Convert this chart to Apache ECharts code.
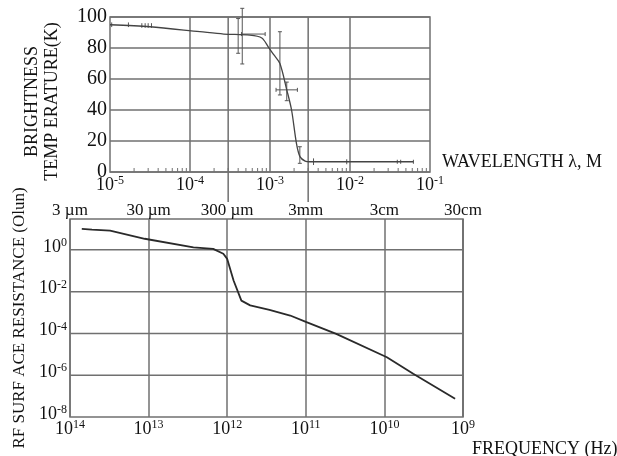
<!DOCTYPE html>
<html>
<head>
<meta charset="utf-8">
<script src="https://cdn.jsdelivr.net/npm/echarts@6/dist/echarts.min.js"></script>
<style>
  html, body { margin: 0; background: #fff; }
  #chart { width: 617px; height: 456px; }
</style>
</head>
<body>
<div id="chart"></div>
<script>
const FONT = '"Liberation Serif", "Times New Roman", serif'
const INK = '#111'
const GRID = '#707070'

// top panel: brightness temperature (K) vs wavelength (m)
const wavelength = [1e-5, 3.16e-5, 1.33e-4, 2.63e-4, 5.6e-4, 7.9e-4, 9.5e-4, 1.12e-3, 1.33e-3, 1.62e-3, 1.86e-3, 2.14e-3, 2.37e-3, 2.75e-3, 3.16e-3, 6.2e-2]
const brightness = [95, 93.7, 90.5, 89, 88.3, 86.5, 80.8, 75.5, 70, 53, 40, 18.5, 9.9, 7, 6.6, 6.6]

// measured points with error bars
const errLambda     = [1.05e-5, 1.7e-5, 2.5e-5, 2.75e-5, 3.0e-5, 3.3e-5, 4.0e-4, 4.5e-4, 1.33e-3, 1.62e-3, 2.36e-3, 3.5e-3, 9.1e-3, 3.9e-2, 4.3e-2, 6.2e-2]
const errTemp       = [95, 95, 94.5, 94.5, 94.5, 94.5, 88, 89, 70, 53, 11, 6.6, 6.6, 6.6, 6.6, 6.6]
const errTempLow    = [93.5, 93.5, 93, 93, 93, 93, 76.6, 69.7, 49.7, 46, 5.6, 4.5, 5, 5.3, 5.3, 5.3]
const errTempHigh   = [96.5, 96.5, 96, 96, 96, 96, 99, 105.6, 90.5, 58, 16.3, 8.8, 8.2, 7.9, 7.9, 7.9]
const errLambdaLow  = [1.05e-5, 1.7e-5, 2.5e-5, 2.75e-5, 3.0e-5, 3.3e-5, 4.0e-4, 4.4e-4, 1.33e-3, 1.19e-3, 2.36e-3, 3.5e-3, 9.1e-3, 3.9e-2, 4.3e-2, 6.2e-2]
const errLambdaHigh = [1.05e-5, 1.7e-5, 2.5e-5, 2.75e-5, 3.0e-5, 3.3e-5, 4.0e-4, 8.7e-4, 1.33e-3, 2.2e-3, 2.36e-3, 3.5e-3, 9.1e-3, 3.9e-2, 4.3e-2, 6.2e-2]

// vertical grid lines of the top panel and the links down to the lower panel
const topGridLambda = [1e-4, 3e-4, 1e-3, 3e-3, 1e-2]
const linkLambda = [3e-4, 3e-3]
const minorMultipliers = [2, 3, 4, 5, 6, 7, 8, 9]
const minorDecades = [1e-5, 1e-4, 1e-3, 1e-2]

// bottom panel: RF surface resistance (Ohm) vs frequency (Hz)
const frequency = [7.08e13, 5.25e13, 3.09e13, 1.12e13, 2.69e12, 1.51e12, 1.12e12, 1.0e12, 8.3e11, 6.6e11, 5.1e11, 2.9e11, 1.58e11, 9.8e10, 4.1e10, 9.3e9, 4.3e9, 1.26e9]
const resistance = [10, 9.3, 8.3, 3.4, 1.32, 1.12, 0.65, 0.37, 0.034, 3.7e-3, 2.2e-3, 1.35e-3, 7.2e-4, 3.5e-4, 9.5e-5, 7.2e-6, 1.17e-6, 7.4e-8]
const resistanceGrid = [1e0, 1e-2, 1e-4, 1e-6]

// wavelength labels on top of the lower panel, for 10^14 ... 10^9 Hz
const wavelengthLabels = ['3 µm', '30 µm', '300 µm', '3mm', '3cm', '30cm']

const chart = echarts.init(document.getElementById('chart'), null, { width: 617, height: 456 })

const powRich = {
  b: { fontFamily: FONT, fontSize: 18, color: INK, lineHeight: 20 },
  s: { fontFamily: FONT, fontSize: 12, color: INK, verticalAlign: 'top', lineHeight: 20 }
}

function exponentOf(v) {
  const e = Math.log10(v)
  return Math.abs(e - Math.round(e)) < 1e-6 ? Math.round(e) : null
}

function powLabel(v) {
  const e = exponentOf(v)
  return e === null ? '' : '{b|10}{s|' + e + '}'
}

const minorLambda = []
minorDecades.forEach(d => minorMultipliers.forEach(m => minorLambda.push(d * m)))

const gridStyle = { stroke: GRID, lineWidth: 1.5 }

function renderErrorBar(params, api) {
  const x = api.value(0)
  const y = api.value(1)
  const lo = api.coord([x, api.value(2)])
  const hi = api.coord([x, api.value(3)])
  const left = api.coord([api.value(4), y])
  const right = api.coord([api.value(5), y])
  const style = { stroke: '#555', lineWidth: 1 }
  const children = [
    { type: 'line', shape: { x1: lo[0], y1: lo[1], x2: hi[0], y2: hi[1] }, style }
  ]
  if (hi[1] - lo[1] < -8) {
    children.push({ type: 'line', shape: { x1: lo[0] - 2, y1: lo[1], x2: lo[0] + 2, y2: lo[1] }, style })
    children.push({ type: 'line', shape: { x1: hi[0] - 2, y1: hi[1], x2: hi[0] + 2, y2: hi[1] }, style })
  }
  if (right[0] - left[0] > 1) {
    children.push({ type: 'line', shape: { x1: left[0], y1: left[1], x2: right[0], y2: right[1] }, style })
    children.push({ type: 'line', shape: { x1: left[0], y1: left[1] - 2, x2: left[0], y2: left[1] + 2 }, style })
    children.push({ type: 'line', shape: { x1: right[0], y1: right[1] - 2, x2: right[0], y2: right[1] + 2 }, style })
  }
  return { type: 'group', children }
}

chart.setOption({
  backgroundColor: '#fff',
  animation: false,
  textStyle: { fontFamily: FONT, color: INK },
  grid: [
    { left: 110, right: 187, top: 17, height: 155, outerBoundsMode: 'none', show: true, borderColor: GRID, borderWidth: 1.5, backgroundColor: 'transparent' },
    { left: 70, right: 154, top: 219, height: 198, outerBoundsMode: 'none', show: true, borderColor: GRID, borderWidth: 1.5, backgroundColor: 'transparent' }
  ],
  xAxis: [
    {
      gridIndex: 0, type: 'log', logBase: 10, min: 1e-5, max: 1e-1,
      axisLine: { show: false }, axisTick: { show: false }, splitLine: { show: false },
      axisLabel: { margin: 3, formatter: powLabel, rich: powRich },
      name: 'WAVELENGTH λ, M', nameLocation: 'end', nameGap: 12,
      nameTextStyle: { fontFamily: FONT, fontSize: 18, color: INK, verticalAlign: 'bottom', padding: [0, 0, 1, 0] }
    },
    {
      gridIndex: 1, type: 'log', logBase: 10, min: 1e9, max: 1e14, inverse: true,
      axisLine: { show: false }, axisTick: { show: false },
      splitLine: { show: true, lineStyle: { color: GRID, width: 1.5 } },
      axisLabel: { margin: 2, formatter: powLabel, rich: powRich },
      name: 'FREQUENCY (Hz)', nameLocation: 'start', nameGap: 9,
      nameTextStyle: { fontFamily: FONT, fontSize: 18, color: INK, verticalAlign: 'top', padding: [23, 0, 0, 0] }
    },
    {
      gridIndex: 1, type: 'log', logBase: 10, min: 1e9, max: 1e14, inverse: true, position: 'top',
      axisLine: { show: false }, axisTick: { show: false }, splitLine: { show: false },
      axisLabel: {
        margin: 0, fontFamily: FONT, fontSize: 17, color: INK,
        formatter: v => {
          const e = exponentOf(v)
          return e === null ? '' : wavelengthLabels[14 - e]
        }
      }
    }
  ],
  yAxis: [
    {
      gridIndex: 0, type: 'value', min: 0, max: 100, interval: 20,
      axisLine: { show: false }, axisTick: { show: false },
      splitLine: { show: true, lineStyle: { color: GRID, width: 1.5 } },
      axisLabel: { margin: 3, fontFamily: FONT, fontSize: 20, color: INK },
      name: 'BRIGHTNESS\nTEMP ERATURE(K)', nameLocation: 'middle', nameRotate: 90, nameGap: 48,
      nameTextStyle: { fontFamily: FONT, fontSize: 18, color: INK, lineHeight: 20, padding: [0, 14, 0, 0] }
    },
    {
      gridIndex: 1, type: 'log', logBase: 10, min: 1e-8, max: 30,
      axisLine: { show: false }, axisTick: { show: false }, splitLine: { show: false },
      axisLabel: {
        margin: 3, rich: powRich, padding: [0, 0, 6, 0],
        formatter: v => {
          const e = exponentOf(v)
          return e === null || e % 2 !== 0 ? '' : '{b|10}{s|' + e + '}'
        }
      },
      name: 'RF SURF ACE RESISTANCE (Olun)', nameLocation: 'middle', nameRotate: 90, nameGap: 42,
      nameTextStyle: { fontFamily: FONT, fontSize: 17, color: INK }
    }
  ],
  series: [
    {
      // vertical grid lines of the top panel
      type: 'custom', xAxisIndex: 0, yAxisIndex: 0, silent: true,
      data: topGridLambda.map(v => [v, 0]),
      renderItem: (params, api) => {
        const a = api.coord([api.value(0), 0])
        const b = api.coord([api.value(0), 100])
        return { type: 'line', shape: { x1: a[0], y1: a[1], x2: b[0], y2: b[1] }, style: gridStyle }
      }
    },
    {
      type: 'line', xAxisIndex: 0, yAxisIndex: 0,
      data: wavelength.map((x, i) => [x, brightness[i]]),
      smooth: 0.3, showSymbol: false, silent: true,
      lineStyle: { color: '#444', width: 1.3 }
    },
    {
      type: 'custom', xAxisIndex: 0, yAxisIndex: 0, clip: false, silent: true,
      data: errLambda.map((x, i) => [x, errTemp[i], errTempLow[i], errTempHigh[i], errLambdaLow[i], errLambdaHigh[i]]),
      encode: { x: 0, y: 1 },
      renderItem: renderErrorBar
    },
    {
      type: 'custom', xAxisIndex: 0, yAxisIndex: 0, clip: false, silent: true,
      data: minorLambda.map(v => [v, 0]),
      renderItem: (params, api) => {
        const p = api.coord([api.value(0), 0])
        return { type: 'line', shape: { x1: p[0], y1: p[1], x2: p[0], y2: p[1] - 4 }, style: { stroke: GRID, lineWidth: 1 } }
      }
    },
    {
      type: 'custom', xAxisIndex: 0, yAxisIndex: 0, clip: false, silent: true,
      data: linkLambda.map(v => [v, 0]),
      renderItem: (params, api) => {
        const p = api.coord([api.value(0), 0])
        return { type: 'line', shape: { x1: p[0], y1: p[1], x2: p[0], y2: p[1] + 30 }, style: gridStyle }
      }
    },
    {
      // horizontal grid lines of the lower panel, every second decade
      type: 'custom', xAxisIndex: 1, yAxisIndex: 1, silent: true,
      data: resistanceGrid.map(v => [1e9, v]),
      renderItem: (params, api) => {
        const a = api.coord([1e9, api.value(1)])
        const b = api.coord([1e14, api.value(1)])
        return { type: 'line', shape: { x1: a[0], y1: a[1], x2: b[0], y2: b[1] }, style: gridStyle }
      }
    },
    {
      type: 'line', xAxisIndex: 1, yAxisIndex: 1,
      data: frequency.map((f, i) => [f, resistance[i]]),
      showSymbol: false, silent: true,
      lineStyle: { color: '#2a2a2a', width: 1.8 }
    }
  ]
})
</script>
</body>
</html>
